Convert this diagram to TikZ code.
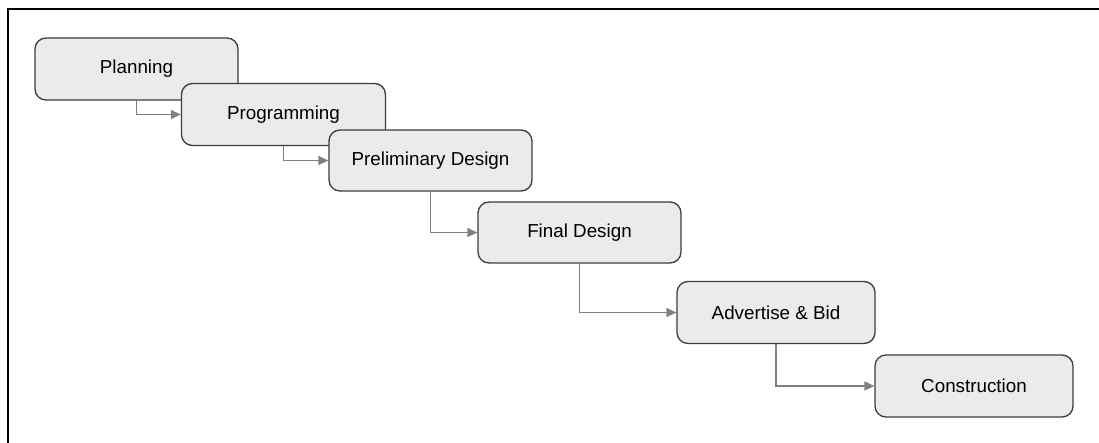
\documentclass[tikz,border=0pt]{standalone}
\usepackage{fontspec}
\setmainfont{Liberation Sans}
\usetikzlibrary{arrows.meta}
\definecolor{boxfill}{HTML}{EBEBEB}
\definecolor{boxline}{HTML}{3C3C3C}
\definecolor{linkgray}{HTML}{808080}
\begin{document}
\begin{tikzpicture}[x=1pt,y=-1pt,
  phase/.style={draw=boxline, fill=boxfill, line width=1.3pt, rounded corners=11pt,
    minimum width=203pt, minimum height=62pt, inner sep=0pt,
    font=\fontsize{18.8}{22}\selectfont},
  link/.style={draw=linkgray, line width=1.3pt,
    -{Triangle[length=10pt,width=9pt]}}]
  \useasboundingbox (0,0) rectangle (1099,443);
  % outer frame: top and left edges only
  \coordinate (frameBL) at (8,443);
  \coordinate (frameTL) at (8,9);
  \coordinate (frameTR) at (1099,9);
  \draw[line width=2.6pt, line cap=rect] (frameBL) -- (frameTL) -- (frameTR);
  % phases, each drawn over the previous one
  \node[phase] (plan) at (136.5,69) {Planning};
  \node[phase, minimum width=204pt] (prog) at (283.5,114.5) {Programming};
  \node[phase, minimum height=61pt] (prelim) at (430.5,160.5) {Preliminary Design};
  \node[phase, minimum height=61pt] (final) at (579.5,232.5) {Final Design};
  \node[phase, minimum width=198pt] (bid) at (776,312.5) {Advertise \& Bid};
  \node[phase, minimum width=198pt] (build) at (974,386) {Construction};
  % step connectors
  \draw[link] (plan.south) |- (prog.west);
  \draw[link] (prog.south) |- (prelim.west);
  \draw[link] (prelim.south) |- (final.west);
  \draw[link] (final.south) |- (bid.west);
  \draw[link] (bid.south) |- (build.west);
\end{tikzpicture}
\end{document}
